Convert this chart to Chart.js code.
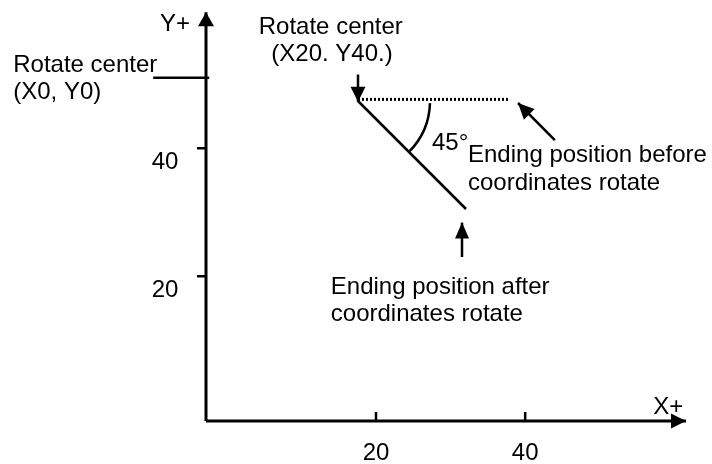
<!DOCTYPE html>
<html>
<head>
<meta charset="utf-8">
<title>Coordinate rotation</title>
<script src="https://cdn.jsdelivr.net/npm/chart.js@4.4.1/dist/chart.umd.min.js"></script>
<style>
  html, body { margin: 0; padding: 0; background: #fff; }
  #wrap { width: 712px; height: 464px; }
</style>
</head>
<body>
<div id="wrap"><canvas id="diagram"></canvas></div>
<script>
// Diagram units (same scale on both axes), origin where the axes cross
const xAxisEnd = 60;
const yAxisEnd = 51.1;

const xTickValues = [21.25, 39.9];
const xTickLabels = ["20", "40"];
const yTickValues = [34.1, 18.1];
const yTickLabels = ["40", "20"];

// rotate center (X0, Y0) marker on the Y axis
const originMarkY = 42.9;
const originMarkX = [-6.6, 0.4];

// rotate center (X20. Y40.) and the two ending positions
const rotateCenter = { x: 19, y: 40 };
const endBefore = { x: 37.75, y: 40.2 };
const endAfter = { x: 32.5, y: 26.5 };
const rotateAngle = 45;
const arcRadius = 9;

// pointer arrows [from, to]
const arrowCenter = [{ x: 19, y: 43.3 }, { x: 19, y: 39.9 }];
const arrowBefore = [{ x: 43.6, y: 35.1 }, { x: 39, y: 39.75 }];
const arrowAfter = [{ x: 32, y: 20.5 }, { x: 32, y: 24.8 }];

const notes = [
  { text: "Y+", x: -5.75, y: 48.8, align: "left" },
  { text: "X+", x: 55.9, y: 0.9, align: "left" },
  { text: "Rotate center", x: -24.1, y: 43.6, align: "left" },
  { text: "(X0, Y0)", x: -24.1, y: 40.25, align: "left" },
  { text: "Rotate center", x: 15.6, y: 48.4, align: "center" },
  { text: "(X20. Y40.)", x: 15.75, y: 45, align: "center" },
  { text: "45°", x: 28.25, y: 33.9, align: "left" },
  { text: "Ending position before", x: 32.75, y: 32.4, align: "left" },
  { text: "coordinates rotate", x: 32.75, y: 28.9, align: "left" },
  { text: "Ending position after", x: 15.6, y: 15.9, align: "left" },
  { text: "coordinates rotate", x: 15.6, y: 12.5, align: "left" }
];

const FONT = '24px "Liberation Sans", Arial, sans-serif';
const PX = 8; // pixels per diagram unit

// tick segments, broken with nulls
const xTickPts = [];
xTickValues.forEach(v => {
  xTickPts.push({ x: v, y: 0 }, { x: v, y: 9 / PX }, { x: v, y: null });
});
const yTickPts = [];
yTickValues.forEach(v => {
  yTickPts.push({ x: -9 / PX, y: v }, { x: 0, y: v }, { x: 0, y: null });
});

function seg(data, extra) {
  return Object.assign({
    data,
    showLine: true,
    borderColor: "#000",
    backgroundColor: "#000",
    borderWidth: 3,
    pointRadius: 0,
    spanGaps: false,
    clip: false
  }, extra || {});
}

const datasets = [
  seg([{ x: 0, y: 0 }, { x: xAxisEnd, y: 0 }], { arrowHead: { len: 15, half: 7.5 } }),
  seg([{ x: 0, y: 0 }, { x: 0, y: yAxisEnd }], { arrowHead: { len: 14, half: 8 } }),
  seg(xTickPts, { borderWidth: 2.5 }),
  seg(yTickPts, { borderWidth: 2.5 }),
  seg([{ x: originMarkX[0], y: originMarkY }, { x: originMarkX[1], y: originMarkY }], { borderWidth: 2.5 }),
  seg([{ x: rotateCenter.x, y: endBefore.y }, endBefore], { borderWidth: 3, borderDash: [2, 2] }),
  seg([rotateCenter, endAfter], { borderWidth: 2.5 }),
  seg(arrowCenter, { borderWidth: 2.5, arrowHead: { len: 15, half: 7.5 } }),
  seg(arrowBefore, { borderWidth: 2.5, arrowHead: { len: 16, half: 7.5 } }),
  seg(arrowAfter, { borderWidth: 2.5, arrowHead: { len: 16, half: 7 } })
];

// arrow heads at the last point of a dataset
const arrowPlugin = {
  id: "arrows",
  afterDatasetsDraw(chart) {
    const ctx = chart.ctx;
    chart.data.datasets.forEach((ds, i) => {
      if (!ds.arrowHead) return;
      const pts = chart.getDatasetMeta(i).data;
      const p0 = pts[pts.length - 2], p1 = pts[pts.length - 1];
      const a = Math.atan2(p1.y - p0.y, p1.x - p0.x);
      const L = ds.arrowHead.len, W = ds.arrowHead.half;
      const bx = p1.x - L * Math.cos(a), by = p1.y - L * Math.sin(a);
      ctx.save();
      ctx.fillStyle = "#000";
      ctx.beginPath();
      ctx.moveTo(p1.x, p1.y);
      ctx.lineTo(bx - W * Math.sin(a), by + W * Math.cos(a));
      ctx.lineTo(bx + W * Math.sin(a), by - W * Math.cos(a));
      ctx.closePath();
      ctx.fill();
      ctx.restore();
    });
  }
};

// angle arc, tick labels and notes
const textPlugin = {
  id: "notes",
  afterDatasetsDraw(chart) {
    const ctx = chart.ctx;
    const xs = chart.scales.x, ys = chart.scales.y;
    ctx.save();
    // 45 degree arc
    const cx = xs.getPixelForValue(rotateCenter.x);
    const cy = ys.getPixelForValue(rotateCenter.y);
    const r = xs.getPixelForValue(rotateCenter.x + arcRadius) - cx;
    ctx.strokeStyle = "#000";
    ctx.lineWidth = 2.5;
    ctx.beginPath();
    ctx.arc(cx, cy, r, 0.03, rotateAngle * Math.PI / 180);
    ctx.stroke();

    ctx.fillStyle = "#000";
    ctx.font = FONT;
    ctx.textBaseline = "alphabetic";
    ctx.textAlign = "center";
    xTickValues.forEach((v, k) => {
      ctx.fillText(xTickLabels[k], xs.getPixelForValue(v), ys.getPixelForValue(0) + 39);
    });
    yTickValues.forEach((v, k) => {
      ctx.fillText(yTickLabels[k], xs.getPixelForValue(0) - 41, ys.getPixelForValue(v) + 21);
    });
    notes.forEach(n => {
      ctx.textAlign = n.align;
      ctx.fillText(n.text, xs.getPixelForValue(n.x), ys.getPixelForValue(n.y));
    });
    ctx.restore();
  }
};

new Chart(document.getElementById("diagram"), {
  type: "scatter",
  data: { datasets },
  options: {
    responsive: true,
    maintainAspectRatio: false,
    animation: false,
    layout: { padding: 0 },
    plugins: { legend: { display: false }, tooltip: { enabled: false } },
    scales: {
      x: { type: "linear", display: false, min: -206 / PX, max: (712 - 206) / PX },
      y: { type: "linear", display: false, min: -(464 - 421) / PX, max: 421 / PX }
    }
  },
  plugins: [arrowPlugin, textPlugin]
});
</script>
</body>
</html>
